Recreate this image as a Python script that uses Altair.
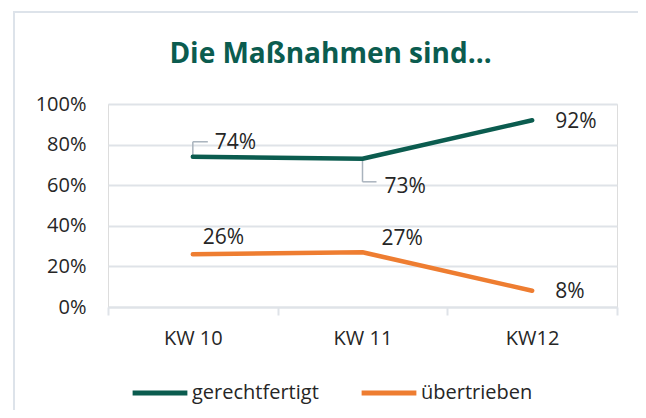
import altair as alt
import pandas as pd

weeks = ["KW 10", "KW 11", "KW12"]
gerechtfertigt = [74, 73, 92]
uebertrieben = [26, 27, 8]
series_names = ["gerechtfertigt", "übertrieben"]
colors = ["#0b5c4f", "#ee7d31"]

rows = []
for name, vals in zip(series_names, [gerechtfertigt, uebertrieben]):
    for w, v in zip(weeks, vals):
        rows.append({"week": w, "series": name, "value": v / 100, "label": f"{v}%"})
df = pd.DataFrame(rows)

FONT = "Open Sans"
TXT = "#262626"
GRID = "#dfe3e8"

xenc = alt.X("week:N", sort=weeks, title=None,
             scale=alt.Scale(paddingInner=0, paddingOuter=0),
             axis=alt.Axis(labelAngle=0, tickBand="extent", domainColor=GRID, domainWidth=2,
                           tickColor=GRID, tickWidth=2, tickSize=8, labelPadding=13,
                           labelFontSize=20, labelColor=TXT, labelFont=FONT, grid=False))
yenc = alt.Y("value:Q", title=None,
             scale=alt.Scale(domain=[0, 1]),
             axis=alt.Axis(format=".0%", values=[0, 0.2, 0.4, 0.6, 0.8, 1.0], domain=False,
                           ticks=False, labelPadding=22, labelFontSize=20, labelColor=TXT,
                           labelFont=FONT, gridColor=GRID, gridWidth=2))

base = alt.Chart(df)

border = alt.Chart(pd.DataFrame({"a": [0]})).mark_rect(
    fillOpacity=0, stroke="#dde3ea", strokeWidth=2, clip=False
).encode(x=alt.value(-94), x2=alt.value(536), y=alt.value(-92), y2=alt.value(340))

lines = base.mark_line(strokeWidth=4.5, strokeCap="round", strokeJoin="round").encode(
    x=xenc, y=yenc,
    color=alt.Color("series:N", scale=alt.Scale(domain=series_names, range=colors),
                    legend=alt.Legend(title=None, orient="none", direction="horizontal",
                                      legendX=22, legendY=259, symbolType="stroke",
                                      symbolSize=3000, symbolStrokeWidth=5,
                                      labelFontSize=20, labelFont=FONT, labelColor=TXT,
                                      labelOffset=2, columnPadding=32)),
)

def lab(week, series, dx, dy, align="left"):
    return base.transform_filter(
        (alt.datum.week == week) & (alt.datum.series == series)
    ).mark_text(align=align, baseline="middle", dx=dx, dy=dy, fontSize=21,
                font=FONT, color=TXT).encode(x=xenc, y=yenc, text="label:N")

labels = [
    lab("KW 10", "gerechtfertigt", 22, -14),
    lab("KW 11", "gerechtfertigt", 22, 28),
    lab("KW12", "gerechtfertigt", 23, 2),
    lab("KW 10", "übertrieben", 10, -16),
    lab("KW 11", "übertrieben", 19, -13),
    lab("KW12", "übertrieben", 23, 1),
]

LEAD = "#a9b3bd"
def leader(week, series, vy, hx):
    sub = base.transform_filter((alt.datum.week == week) & (alt.datum.series == series))
    v = sub.mark_rule(color=LEAD, strokeWidth=1.5, y2Offset=vy).encode(
        x=xenc, y=yenc, y2="value:Q")
    h = sub.mark_rule(color=LEAD, strokeWidth=1.5, yOffset=vy, x2Offset=hx).encode(
        x=xenc, x2="week:N", y=yenc)
    return [v, h]

leaders = leader("KW 10", "gerechtfertigt", -15, 15) + leader("KW 11", "gerechtfertigt", 23, 14)

chart = alt.layer(border, *leaders, lines, *labels).properties(
    width=509, height=203,
    autosize=alt.AutoSizeParams(type="none"),
    padding={"left": 100, "top": 96, "right": 21, "bottom": 103},
    title=alt.TitleParams("Die Maßnahmen sind…", anchor="middle", frame="group",
                          dx=-32, offset=-80, baseline="alphabetic", fontSize=28,
                          fontWeight="bold", font=FONT, color="#0b5c4f"),
).configure_view(stroke=None).configure(background="white")

chart.save("out.html", embed_options={"renderer": "svg", "actions": False})
